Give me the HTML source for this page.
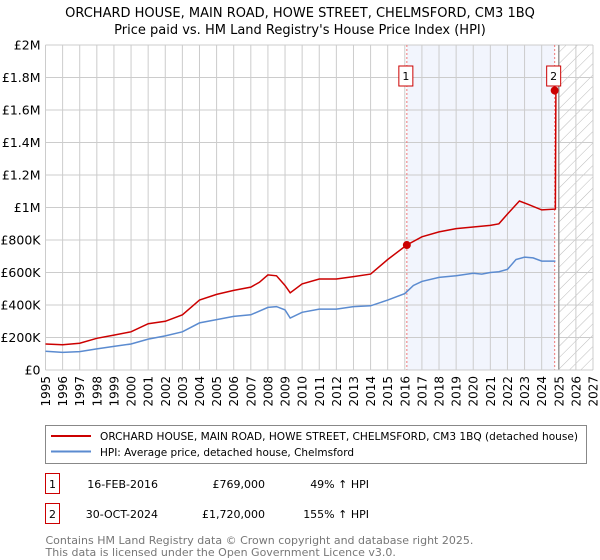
<!DOCTYPE html>
<html><head><meta charset="utf-8"><style>
body{margin:0;background:#fff;font-family:"Liberation Sans","DejaVu Sans",sans-serif;}
#wrap{position:relative;width:600px;height:560px;overflow:hidden;}
svg text{font-family:"DejaVu Sans","Liberation Sans",sans-serif;}
</style></head><body><div id="wrap">
<svg id="chart" width="600" height="560"></svg>
</div>
<script>
const hpiYears=[1995,1996,1997,1998,1999,2000,2001,2002,2003,2004,2005,2006,2007,2008,2008.5,2009,2009.3,2010,2011,2012,2013,2014,2015,2016,2016.5,2017,2018,2019,2020,2020.5,2021,2021.5,2022,2022.5,2023,2023.5,2024,2024.8];
const hpiValues=[115,108,113,130,145,160,190,210,235,290,310,330,340,385,390,370,320,355,375,375,390,395,430,470,520,545,570,580,595,590,600,605,620,680,695,690,670,670];
const priceYears=[1995,1996,1997,1998,1999,2000,2001,2002,2003,2004,2005,2006,2007,2007.5,2008,2008.5,2009,2009.3,2010,2011,2012,2013,2014,2015,2016.12,2017,2018,2019,2020,2021,2021.5,2022,2022.7,2023.2,2024,2024.8,2024.83];
const priceValues=[160,155,165,195,215,235,285,300,340,430,465,490,510,540,585,580,520,475,530,560,560,575,590,680,769,820,850,870,880,890,900,960,1040,1020,985,990,1720];
const yTicks=[0,200,400,600,800,1000,1200,1400,1600,1800,2000];
const yLabels=["£0","£200K","£400K","£600K","£800K","£1M","£1.2M","£1.4M","£1.6M","£1.8M","£2M"];
const xTicks=[1995,1996,1997,1998,1999,2000,2001,2002,2003,2004,2005,2006,2007,2008,2009,2010,2011,2012,2013,2014,2015,2016,2017,2018,2019,2020,2021,2022,2023,2024,2025,2026,2027];
const sales=[{n:"1",yr:2016.12,v:769},{n:"2",yr:2024.76,v:1720}];

const NS="http://www.w3.org/2000/svg";
const svg=document.getElementById('chart');
const X0=45.5,X1=593,Y0=370,Y1=45;
const x=yr=>X0+(yr-1995)/(2027-1995)*(X1-X0);
const y=v=>Y0-v/2000*(Y0-Y1);
function el(t,a,p){const e=document.createElementNS(NS,t);for(const k in a)e.setAttribute(k,a[k]);(p||svg).appendChild(e);return e;}
function txt(s,a,p){const e=el('text',a,p);e.textContent=s;return e;}

let t=txt("ORCHARD HOUSE, MAIN ROAD, HOWE STREET, CHELMSFORD, CM3 1BQ",{x:300,y:17,'text-anchor':'middle','font-size':13});

t=txt("Price paid vs. HM Land Registry's House Price Index (HPI)",{x:300,y:34,'text-anchor':'middle','font-size':13});


const defs=el('defs',{});
const pat=el('pattern',{id:'hatch',patternUnits:'userSpaceOnUse',width:8,height:8,patternTransform:'rotate(45)'},defs);
el('line',{x1:0,y1:0,x2:0,y2:8,stroke:'#bbb','stroke-width':1},pat);

let r=el('rect',{x:x(sales[0].yr),y:Y1,width:x(sales[1].yr)-x(sales[0].yr),height:Y0-Y1,fill:'#f2f5fd'});

r=el('rect',{x:x(2025),y:Y1,width:X1-x(2025),height:Y0-Y1,fill:'url(#hatch)'});


yTicks.forEach((v,i)=>{
  const l=el('line',{x1:X0,x2:X1,y1:y(v),y2:y(v),stroke:'#ccc','stroke-width':1});
  
  const tl=txt(yLabels[i],{x:X0-5,y:y(v)+4.5,'text-anchor':'end','font-size':12.5});
  
});
xTicks.forEach(yr=>{
  const l=el('line',{x1:x(yr),x2:x(yr),y1:Y1,y2:Y0,stroke:'#ccc','stroke-width':1});
  
  const tl=txt(String(yr),{x:0,y:0,'text-anchor':'end','font-size':12,transform:`translate(${x(yr)+4.5},${Y0+6}) rotate(-90)`});
  
});
let vl=el('line',{x1:x(2025),x2:x(2025),y1:Y1,y2:Y0,stroke:'#999','stroke-width':1.5});


sales.forEach(s=>{
  const l=el('line',{x1:x(s.yr),x2:x(s.yr),y1:Y1,y2:Y0,stroke:'#e77','stroke-width':1,'stroke-dasharray':'2,2'});
  
});

function path(xs,vs){return xs.map((yr,i)=>(i?'L':'M')+x(yr).toFixed(1)+','+y(vs[i]).toFixed(1)).join(' ');}
let p=el('path',{d:path(hpiYears,hpiValues),fill:'none',stroke:'#5b8bd0','stroke-width':1.5});

p=el('path',{d:path(priceYears,priceValues),fill:'none',stroke:'#cc0000','stroke-width':1.5});


sales.forEach(s=>{
  const c=el('circle',{cx:x(s.yr),cy:y(s.v),r:4,fill:'#cc0000'});
  
  const b=el('rect',{x:x(s.yr)-8,y:66,width:14,height:20,fill:'#fff',stroke:'#cc0000','stroke-width':1});
  
  const tl=txt(s.n,{x:x(s.yr)-1,y:80,'text-anchor':'middle','font-size':11});
  
});
let ax=el('line',{x1:X0,x2:X1,y1:Y0,y2:Y0,stroke:'#ccc'});


const lg=el('g',{});

el('rect',{x:45.5,y:425.5,width:541,height:38,fill:'#fff',stroke:'#888','stroke-width':1},lg);
el('line',{x1:51,x2:91,y1:436,y2:436,stroke:'#cc0000','stroke-width':2},lg);
let le=txt("ORCHARD HOUSE, MAIN ROAD, HOWE STREET, CHELMSFORD, CM3 1BQ (detached house)",{x:100,y:440,'font-size':11,textLength:478,lengthAdjust:'spacingAndGlyphs'},lg);

el('line',{x1:51,x2:91,y1:451.5,y2:451.5,stroke:'#5b8bd0','stroke-width':2},lg);
le=txt("HPI: Average price, detached house, Chelmsford",{x:100,y:456,'font-size':11,textLength:254,lengthAdjust:'spacingAndGlyphs'},lg);


const rows=[["1","16-FEB-2016","£769,000","49% ↑ HPI",483],["2","30-OCT-2024","£1,720,000","155% ↑ HPI",513]];
rows.forEach(rw=>{
  const g=el('g',{});
  
  el('rect',{x:45.5,y:rw[4]-9.5,width:14,height:20,fill:'#fff',stroke:'#cc0000'},g);
  txt(rw[0],{x:52.5,y:rw[4]+5,'text-anchor':'middle','font-size':11},g);
  txt(rw[1],{x:158,y:rw[4]+5,'text-anchor':'end','font-size':11},g);
  txt(rw[2],{x:265,y:rw[4]+5,'text-anchor':'end','font-size':11},g);
  txt(rw[3],{x:369,y:rw[4]+5,'text-anchor':'end','font-size':11},g);
});
let f=txt("Contains HM Land Registry data © Crown copyright and database right 2025.",{x:45.5,y:544,'font-size':11,fill:'#777'});

f=txt("This data is licensed under the Open Government Licence v3.0.",{x:45.5,y:556,'font-size':11,fill:'#777'});

</script></body></html>
